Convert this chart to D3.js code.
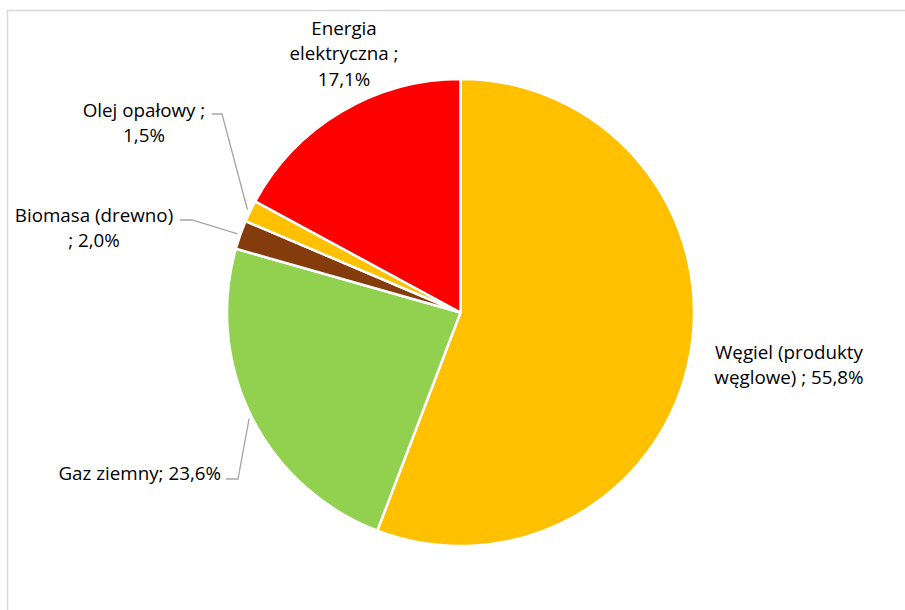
<!DOCTYPE html>
<html>
<head>
<meta charset="utf-8">
<script src="https://cdn.jsdelivr.net/npm/d3@7"></script>
<style>
  body { margin: 0; background: #fff; }
  text { font-family: "Open Sans", "Noto Sans", sans-serif; font-size: 18.8px; fill: #000; }
</style>
</head>
<body>
<svg width="905" height="610"></svg>
<script>
// chart data (order = clockwise from 12 o'clock)
var categories = ["Węgiel (produkty węglowe)", "Gaz ziemny", "Biomasa (drewno)", "Olej opałowy", "Energia elektryczna"];
var values = [55.8, 23.6, 2.0, 1.5, 17.1];
var colors = ["#FFC000", "#92D050", "#843C0C", "#FFC000", "#FF0000"];
// label text as shown, split in lines
var labelLines = [
  ["Węgiel (produkty", "węglowe) ; 55,8%"],
  ["Gaz ziemny; 23,6%"],
  ["Biomasa (drewno)", "; 2,0%"],
  ["Olej opałowy ;", "1,5%"],
  ["Energia", "elektryczna ;", "17,1%"]
];

var svg = d3.select("svg");
var cx = 460.5, cy = 312.5, radius = 233.5;

// chart area border (only left and top visible)
svg.append("rect")
  .attr("x", 7.5).attr("y", 10.5)
  .attr("width", 1000).attr("height", 1000)
  .attr("fill", "none")
  .attr("stroke", "#d9d9d9")
  .attr("stroke-width", 1.5);

var pie = d3.pie().sort(null).value(function(d) { return d; });
var arcs = pie(values);
var arc = d3.arc().innerRadius(0).outerRadius(radius);

var g = svg.append("g").attr("transform", "translate(" + cx + "," + cy + ")");

g.selectAll("path.slice")
  .data(arcs)
  .enter().append("path")
    .attr("class", "slice")
    .attr("d", arc)
    .attr("fill", function(d, i) { return colors[i]; })
    .attr("stroke", "#fff")
    .attr("stroke-width", 2.5)
    .attr("stroke-linejoin", "round");

// label placement (Excel puts them by hand-ish), x/y = centre of first line
var layout = [
  { x: 789, y: 352, anchor: "middle" },
  { x: 221, y: 473, anchor: "end", leader: true },
  { x: 94,  y: 215, anchor: "middle", leader: true },
  { x: 144, y: 110, anchor: "middle", leader: true },
  { x: 344, y: 28,  anchor: "middle" }
];
var lineH = 25.5;

var labels = svg.append("g");
arcs.forEach(function(a, i) {
  var L = layout[i];
  var t = labels.append("text")
    .attr("text-anchor", L.anchor)
    .attr("x", L.x).attr("y", L.y);
  labelLines[i].forEach(function(s, k) {
    t.append("tspan")
      .attr("x", L.x)
      .attr("y", L.y + k * lineH)
      .attr("dy", "0.35em")
      .text(s);
  });
});

// leader lines from label to slice edge
var edge = d3.arc().innerRadius(radius + 3).outerRadius(radius + 3);
var leaderStart = { 1: [226, 479, 238], 2: [180, 220, 192], 3: [212, 114, 222] };
arcs.forEach(function(a, i) {
  if (!layout[i].leader) return;
  var p = edge.centroid(a);
  var s = leaderStart[i];
  svg.append("polyline")
    .attr("points", [[s[0], s[1]], [s[2], s[1]], [cx + p[0], cy + p[1]]].join(" "))
    .attr("fill", "none")
    .attr("stroke", "#a6a6a6")
    .attr("stroke-width", 1.3);
});
</script>
</body>
</html>
